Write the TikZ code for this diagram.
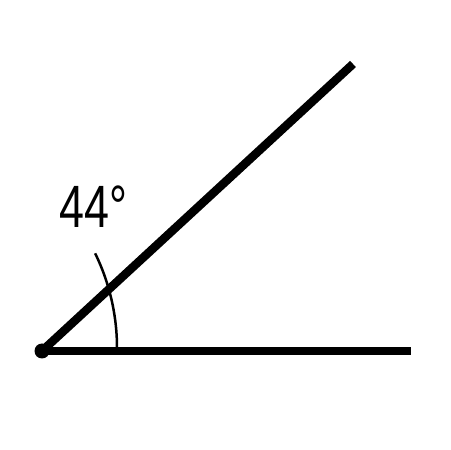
\documentclass[tikz,border=0pt]{standalone}
\usepackage{fontspec}
\newfontfamily\labelfont{Liberation Sans}
\begin{document}
\begin{tikzpicture}[x=0.02cm, y=0.02cm]
    \useasboundingbox (0,0) rectangle (450,450);
    % Nodes
    \coordinate (vertex) at (42,99);
    \coordinate (base-end) at (411,99);
    \coordinate (slant-end) at (353,386);
    \coordinate (arc-start) at (117,102);
    \node[anchor=base, xscale=0.75, font=\labelfont\fontsize{34}{34}\selectfont, inner sep=0pt] (angle-label) at (93.5,222) {44°};

    % Lines
    \draw[line width=0.17cm] (vertex) -- (base-end);
    \draw[line width=0.17cm] (vertex) -- (slant-end);
    \draw[line width=0.05cm] (arc-start) arc[start angle=0, end angle=26, radius=216];

    \fill (vertex) circle (7.5);

  \end{tikzpicture}
\end{document}
